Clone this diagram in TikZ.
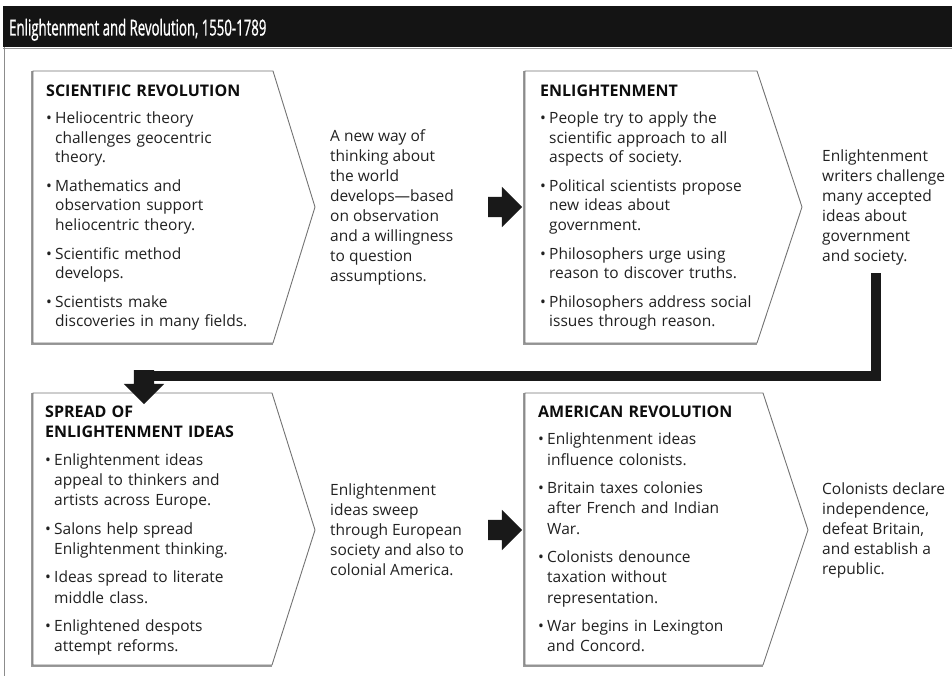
\documentclass[tikz,border=0pt]{standalone}
\usepackage{fontspec}
\setmainfont{Open Sans}
\newfontfamily\titlefont[FakeStretch=0.6,FakeBold=0.8]{Open Sans}
\usepackage{tikz}
\usetikzlibrary{shapes.arrows}
\newcommand{\bpoint}[1]{\par\vspace{8.7pt}\hangindent=9pt\hangafter=1
  \noindent\makebox[9pt][l]{\textbullet}#1\par}
\newcommand{\heading}[1]{{\fontsize{16}{20}\selectfont\bfseries\color{black!95}#1}\par\vspace{-1.4pt}}
\tikzstyle{chevron}=[draw=black!55, line width=0.9pt, fill=white]
\tikzstyle{shade}=[draw=black!40, line width=2pt]
\tikzstyle{fat}=[single arrow, fill=black!90, draw=none, inner xsep=0pt,
  inner ysep=10pt, minimum height=34pt, single arrow head extend=10pt]
\tikzstyle{bar}=[draw=black!90, line width=10pt]
\tikzstyle{bullets}=[anchor=base west, inner sep=0pt, text width=260pt,
  font=\fontsize{15.5}{19.7}\selectfont, text=black!87]
\tikzstyle{note}=[anchor=west, inner sep=0pt, align=left,
  font=\fontsize{15.5}{20}\selectfont, text=black!87]

\begin{document}
\begin{tikzpicture}[x=1pt,y=-1pt]
\useasboundingbox (0,0) rectangle (952,676);
% title bar and frame
\fill[black!92] (3,6) rectangle (952,47);
\draw[black!40, line width=1.2pt] (3,48.5) -- (952,48.5);
\draw[black!45, line width=1.5pt] (4.5,47) -- (4.5,676);
\node[anchor=base west, inner sep=0pt, text=white,
  font=\titlefont\fontsize{22}{22}\selectfont] (title) at (9,35.5)
  {Enlightenment and Revolution, 1550-1789};

% chevron boxes
\foreach \l/\c/\p/\t/\b/\m in {33/273/315/71/343/207, 525/757/802/71/343/207,
  33/272/315/393/665/530, 525/763/808/393/665/530}{
  \draw[shade] (\l-1,\t) -- (\l-1,\b+1) -- (\c,\b+1);
  \draw[chevron] (\l,\t) -- (\c,\t) -- (\p,\m) -- (\c,\b) -- (\l,\b) -- cycle;
}
\coordinate (scitip) at (315,207);
\coordinate (enltip) at (802,207);
\coordinate (sprtip) at (315,530);
\coordinate (amrtip) at (808,530);

\node[bullets] (sci) at (46,96.5) {\heading{SCIENTIFIC REVOLUTION}
  \bpoint{Heliocentric theory\newline challenges geocentric\newline theory.}
  \bpoint{Mathematics and\newline observation support\newline heliocentric theory.}
  \bpoint{Scientific method\newline develops.}
  \bpoint{Scientists make\newline discoveries in many fields.}};
\node[bullets] (enl) at (540,96.5) {\heading{ENLIGHTENMENT}
  \bpoint{People try to apply the\newline scientific approach to all\newline aspects of society.}
  \bpoint{Political scientists propose\newline new ideas about\newline government.}
  \bpoint{Philosophers urge using\newline reason to discover truths.}
  \bpoint{Philosophers address social\newline issues through reason.}};
\node[bullets, font=\fontsize{15.5}{20.1}\selectfont] (spr) at (45,417.5)
  {\heading{SPREAD OF\newline ENLIGHTENMENT IDEAS}
  \bpoint{Enlightenment ideas\newline appeal to thinkers and\newline artists across Europe.}
  \bpoint{Salons help spread\newline Enlightenment thinking.}
  \bpoint{Ideas spread to literate\newline middle class.}
  \bpoint{Enlightened despots\newline attempt reforms.}};
\node[bullets, font=\fontsize{15.5}{20.1}\selectfont] (amr) at (538,417.5)
  {\heading{AMERICAN REVOLUTION}
  \bpoint{Enlightenment ideas\newline influence colonists.}
  \bpoint{Britain taxes colonies\newline after French and Indian\newline War.}
  \bpoint{Colonists denounce\newline taxation without\newline representation.}
  \bpoint{War begins in Lexington\newline and Concord.}};

% outcomes
\node[note] (scinote) at (330,207) {A new way of\\thinking about\\the world\\
  develops---based\\on observation\\and a willingness\\to question\\assumptions.};
\node[note] (enlnote) at (822,207) {Enlightenment\\writers challenge\\many accepted\\
  ideas about\\government\\and society.};
\node[note] (sprnote) at (330,530) {Enlightenment\\ideas sweep\\through European\\
  society and also to\\colonial America.};
\node[note] (amrnote) at (822,530) {Colonists declare\\independence,\\defeat Britain,\\
  and establish a\\republic.};

% arrows
\node[fat] (go1) at (500,207) {};
\node[fat] (go2) at (500,530) {};
\node[fat, rotate=-90] (down) at (144,382) {};
\coordinate (drop) at (876,273);
\draw[bar] (drop) |- ([yshift=-6pt]down.tail);
\end{tikzpicture}
\end{document}
